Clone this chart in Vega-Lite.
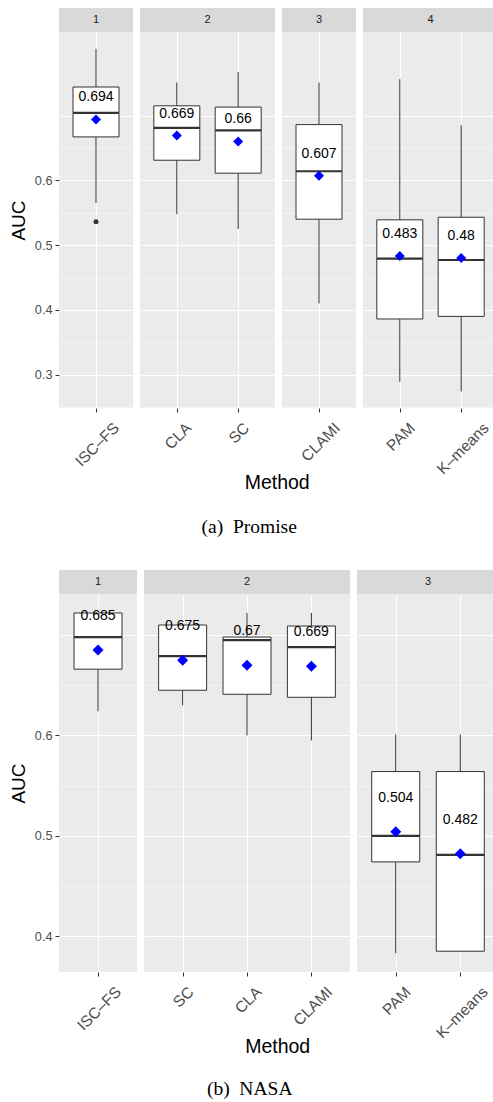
{
  "$schema": "https://vega.github.io/schema/vega-lite/v6.json",
  "padding": {"left": 9, "top": 8, "right": 0, "bottom": 0},
  "spacing": 33,
  "datasets": {
    "promise": [
      {"group": "1", "method": "ISC–FS", "lower": 0.565, "q1": 0.667, "median": 0.704, "q3": 0.744, "upper": 0.803, "mean": 0.694},
      {"group": "2", "method": "CLA", "lower": 0.548, "q1": 0.631, "median": 0.681, "q3": 0.715, "upper": 0.751, "mean": 0.669},
      {"group": "2", "method": "SC", "lower": 0.525, "q1": 0.611, "median": 0.677, "q3": 0.713, "upper": 0.767, "mean": 0.66},
      {"group": "3", "method": "CLAMI", "lower": 0.41, "q1": 0.54, "median": 0.614, "q3": 0.686, "upper": 0.751, "mean": 0.607},
      {"group": "4", "method": "PAM", "lower": 0.289, "q1": 0.386, "median": 0.479, "q3": 0.539, "upper": 0.756, "mean": 0.483},
      {"group": "4", "method": "K–means", "lower": 0.274, "q1": 0.39, "median": 0.477, "q3": 0.543, "upper": 0.685, "mean": 0.48}
    ],
    "promise_out": [
      {"group": "1", "method": "ISC–FS", "value": 0.536}
    ],
    "nasa": [
      {"group": "1", "method": "ISC–FS", "lower": 0.624, "q1": 0.666, "median": 0.698, "q3": 0.722, "upper": 0.722, "mean": 0.685},
      {"group": "2", "method": "SC", "lower": 0.63, "q1": 0.645, "median": 0.679, "q3": 0.71, "upper": 0.71, "mean": 0.675},
      {"group": "2", "method": "CLA", "lower": 0.6, "q1": 0.641, "median": 0.695, "q3": 0.698, "upper": 0.722, "mean": 0.67},
      {"group": "2", "method": "CLAMI", "lower": 0.595, "q1": 0.638, "median": 0.688, "q3": 0.709, "upper": 0.722, "mean": 0.669},
      {"group": "3", "method": "PAM", "lower": 0.383, "q1": 0.474, "median": 0.5, "q3": 0.564, "upper": 0.601, "mean": 0.504},
      {"group": "3", "method": "K–means", "lower": 0.385, "q1": 0.385, "median": 0.481, "q3": 0.564, "upper": 0.601, "mean": 0.482}
    ],
    "strips": [
      {"label": "1"}, {"label": "2"}, {"label": "3"}, {"label": "4"}
    ]
  },
  "config": {
    "font": "Liberation Sans",
    "view": {"fill": "#EBEBEB", "stroke": null},
    "axis": {"domain": false, "gridColor": "white", "tickColor": "#333333", "tickSize": 4, "tickWidth": 1.07, "labelColor": "#4D4D4D"},
    "axisX": {
      "title": null, "grid": true, "gridWidth": 1.07,
      "labelAngle": -45, "labelAlign": "right", "labelBaseline": "top", "labelPadding": 8,
      "labelFontSize": 15.5,
      "labelOffset": {"condition": [
        {"test": "datum.label == 'ISC–FS'", "value": 15},
        {"test": "datum.label == 'CLA'", "value": 6.5},
        {"test": "datum.label == 'SC'", "value": 3},
        {"test": "datum.label == 'CLAMI'", "value": 13},
        {"test": "datum.label == 'PAM'", "value": 7},
        {"test": "datum.label == 'K–means'", "value": 19.5}
      ], "value": 6}
    },
    "text": {"font": "Liberation Sans"}
  },
  "vconcat": [
    {
      "title": {"text": "(a)\u00a0\u00a0Promise", "orient": "bottom", "anchor": "middle", "font": "Liberation Serif", "fontSize": 19.5, "fontWeight": "normal", "color": "black", "offset": 25, "dx": -4.5},
      "vconcat": [
        {
          "title": {"text": "Method", "orient": "bottom", "anchor": "middle", "fontSize": 19.5, "fontWeight": "normal", "color": "black", "offset": -3, "dx": 23.5},
          "spacing": 7,
          "hconcat": [
            {
              "concat": [
                {"width": 74, "height": 24, "view": {"fill": "#D9D9D9", "stroke": null}, "data": {"name": "strips"}, "transform": [{"filter": "datum.label == '1'"}], "mark": {"type": "text", "fontSize": 11, "color": "#1A1A1A"}, "encoding": {"text": {"field": "label"}}},
                {
                  "width": 74, "height": 376,
                  "data": {"name": "promise"},
                  "transform": [{"filter": "datum.group == '1'"}],
                  "encoding": {"x": {"field": "method", "type": "nominal", "sort": null, "scale": {"type": "point", "padding": 0.6}}},
                  "layer": [
                    {"mark": {"type": "rule", "color": "#333333", "strokeWidth": 1}, "encoding": {"y": {"field": "lower", "type": "quantitative", "scale": {"domain": [0.2486, 0.8289], "nice": false, "zero": false}, "axis": {"title": "AUC", "titleFontSize": 19, "titleFontWeight": "normal", "titleColor": "black", "titlePadding": 6, "values": [0.25, 0.3, 0.35, 0.4, 0.45, 0.5, 0.55, 0.6, 0.65, 0.7], "labelExpr": "round(datum.value*100) % 10 == 0 && datum.value < 0.65 ? format(datum.value, '.1f') : ''", "tickOpacity": {"condition": {"test": "round(datum.value*100) % 10 == 0 && datum.value < 0.65", "value": 1}, "value": 0}, "grid": true, "gridWidth": {"condition": {"test": "round(datum.value*100) % 10 == 0", "value": 1.07}, "value": 0.53}, "labelFontSize": 12.7, "labelPadding": 3}}, "y2": {"field": "upper"}}},
                    {"mark": {"type": "bar", "size": 46, "fill": "white", "stroke": "#333333", "strokeWidth": 1}, "encoding": {"y": {"field": "q1", "type": "quantitative", "scale": {"domain": [0.2486, 0.8289], "nice": false, "zero": false}}, "y2": {"field": "q3"}}},
                    {"mark": {"type": "tick", "size": 46, "thickness": 2.2, "color": "#333333", "opacity": 1}, "encoding": {"y": {"field": "median", "type": "quantitative", "scale": {"domain": [0.2486, 0.8289], "nice": false, "zero": false}}}},
                    {"data": {"name": "promise_out"}, "mark": {"type": "point", "filled": true, "size": 25, "color": "#333333", "opacity": 1}, "encoding": {"y": {"field": "value", "type": "quantitative", "scale": {"domain": [0.2486, 0.8289], "nice": false, "zero": false}}}},
                    {"mark": {"type": "point", "shape": "diamond", "filled": true, "size": 100, "color": "#0000FF", "opacity": 1}, "encoding": {"y": {"field": "mean", "type": "quantitative", "scale": {"domain": [0.2486, 0.8289], "nice": false, "zero": false}}}},
                    {"mark": {"type": "text", "dy": -22, "fontSize": 14, "color": "black"}, "encoding": {"y": {"field": "mean", "type": "quantitative", "scale": {"domain": [0.2486, 0.8289], "nice": false, "zero": false}}, "text": {"field": "mean", "type": "quantitative", "format": ".3~f"}}}
                  ]
                }
              ],
              "columns": 1, "spacing": 0, "align": "each"
            },
            {
              "concat": [
                {"width": 135, "height": 24, "view": {"fill": "#D9D9D9", "stroke": null}, "data": {"name": "strips"}, "transform": [{"filter": "datum.label == '2'"}], "mark": {"type": "text", "fontSize": 11, "color": "#1A1A1A"}, "encoding": {"text": {"field": "label"}}},
                {
                  "width": 135, "height": 376,
                  "data": {"name": "promise"},
                  "transform": [{"filter": "datum.group == '2'"}],
                  "encoding": {"x": {"field": "method", "type": "nominal", "sort": null, "scale": {"type": "point", "padding": 0.6}}},
                  "layer": [
                    {"mark": {"type": "rule", "color": "#333333", "strokeWidth": 1}, "encoding": {"y": {"field": "lower", "type": "quantitative", "scale": {"domain": [0.2486, 0.8289], "nice": false, "zero": false}, "axis": {"title": null, "labels": false, "ticks": false, "values": [0.25, 0.3, 0.35, 0.4, 0.45, 0.5, 0.55, 0.6, 0.65, 0.7], "grid": true, "gridWidth": {"condition": {"test": "round(datum.value*100) % 10 == 0", "value": 1.07}, "value": 0.53}}}, "y2": {"field": "upper"}}},
                    {"mark": {"type": "bar", "size": 46, "fill": "white", "stroke": "#333333", "strokeWidth": 1}, "encoding": {"y": {"field": "q1", "type": "quantitative", "scale": {"domain": [0.2486, 0.8289], "nice": false, "zero": false}}, "y2": {"field": "q3"}}},
                    {"mark": {"type": "tick", "size": 46, "thickness": 2.2, "color": "#333333", "opacity": 1}, "encoding": {"y": {"field": "median", "type": "quantitative", "scale": {"domain": [0.2486, 0.8289], "nice": false, "zero": false}}}},
                    {"mark": {"type": "point", "shape": "diamond", "filled": true, "size": 100, "color": "#0000FF", "opacity": 1}, "encoding": {"y": {"field": "mean", "type": "quantitative", "scale": {"domain": [0.2486, 0.8289], "nice": false, "zero": false}}}},
                    {"mark": {"type": "text", "dy": -22, "fontSize": 14, "color": "black"}, "encoding": {"y": {"field": "mean", "type": "quantitative", "scale": {"domain": [0.2486, 0.8289], "nice": false, "zero": false}}, "text": {"field": "mean", "type": "quantitative", "format": ".3~f"}}}
                  ]
                }
              ],
              "columns": 1, "spacing": 0, "align": "each"
            },
            {
              "concat": [
                {"width": 74, "height": 24, "view": {"fill": "#D9D9D9", "stroke": null}, "data": {"name": "strips"}, "transform": [{"filter": "datum.label == '3'"}], "mark": {"type": "text", "fontSize": 11, "color": "#1A1A1A"}, "encoding": {"text": {"field": "label"}}},
                {
                  "width": 74, "height": 376,
                  "data": {"name": "promise"},
                  "transform": [{"filter": "datum.group == '3'"}],
                  "encoding": {"x": {"field": "method", "type": "nominal", "sort": null, "scale": {"type": "point", "padding": 0.6}}},
                  "layer": [
                    {"mark": {"type": "rule", "color": "#333333", "strokeWidth": 1}, "encoding": {"y": {"field": "lower", "type": "quantitative", "scale": {"domain": [0.2486, 0.8289], "nice": false, "zero": false}, "axis": {"title": null, "labels": false, "ticks": false, "values": [0.25, 0.3, 0.35, 0.4, 0.45, 0.5, 0.55, 0.6, 0.65, 0.7], "grid": true, "gridWidth": {"condition": {"test": "round(datum.value*100) % 10 == 0", "value": 1.07}, "value": 0.53}}}, "y2": {"field": "upper"}}},
                    {"mark": {"type": "bar", "size": 46, "fill": "white", "stroke": "#333333", "strokeWidth": 1}, "encoding": {"y": {"field": "q1", "type": "quantitative", "scale": {"domain": [0.2486, 0.8289], "nice": false, "zero": false}}, "y2": {"field": "q3"}}},
                    {"mark": {"type": "tick", "size": 46, "thickness": 2.2, "color": "#333333", "opacity": 1}, "encoding": {"y": {"field": "median", "type": "quantitative", "scale": {"domain": [0.2486, 0.8289], "nice": false, "zero": false}}}},
                    {"mark": {"type": "point", "shape": "diamond", "filled": true, "size": 100, "color": "#0000FF", "opacity": 1}, "encoding": {"y": {"field": "mean", "type": "quantitative", "scale": {"domain": [0.2486, 0.8289], "nice": false, "zero": false}}}},
                    {"mark": {"type": "text", "dy": -22, "fontSize": 14, "color": "black"}, "encoding": {"y": {"field": "mean", "type": "quantitative", "scale": {"domain": [0.2486, 0.8289], "nice": false, "zero": false}}, "text": {"field": "mean", "type": "quantitative", "format": ".3~f"}}}
                  ]
                }
              ],
              "columns": 1, "spacing": 0, "align": "each"
            },
            {
              "concat": [
                {"width": 135, "height": 24, "view": {"fill": "#D9D9D9", "stroke": null}, "data": {"name": "strips"}, "transform": [{"filter": "datum.label == '4'"}], "mark": {"type": "text", "fontSize": 11, "color": "#1A1A1A"}, "encoding": {"text": {"field": "label"}}},
                {
                  "width": 135, "height": 376,
                  "data": {"name": "promise"},
                  "transform": [{"filter": "datum.group == '4'"}],
                  "encoding": {"x": {"field": "method", "type": "nominal", "sort": null, "scale": {"type": "point", "padding": 0.6}}},
                  "layer": [
                    {"mark": {"type": "rule", "color": "#333333", "strokeWidth": 1}, "encoding": {"y": {"field": "lower", "type": "quantitative", "scale": {"domain": [0.2486, 0.8289], "nice": false, "zero": false}, "axis": {"title": null, "labels": false, "ticks": false, "values": [0.25, 0.3, 0.35, 0.4, 0.45, 0.5, 0.55, 0.6, 0.65, 0.7], "grid": true, "gridWidth": {"condition": {"test": "round(datum.value*100) % 10 == 0", "value": 1.07}, "value": 0.53}}}, "y2": {"field": "upper"}}},
                    {"mark": {"type": "bar", "size": 46, "fill": "white", "stroke": "#333333", "strokeWidth": 1}, "encoding": {"y": {"field": "q1", "type": "quantitative", "scale": {"domain": [0.2486, 0.8289], "nice": false, "zero": false}}, "y2": {"field": "q3"}}},
                    {"mark": {"type": "tick", "size": 46, "thickness": 2.2, "color": "#333333", "opacity": 1}, "encoding": {"y": {"field": "median", "type": "quantitative", "scale": {"domain": [0.2486, 0.8289], "nice": false, "zero": false}}}},
                    {"mark": {"type": "point", "shape": "diamond", "filled": true, "size": 100, "color": "#0000FF", "opacity": 1}, "encoding": {"y": {"field": "mean", "type": "quantitative", "scale": {"domain": [0.2486, 0.8289], "nice": false, "zero": false}}}},
                    {"mark": {"type": "text", "dy": -22, "fontSize": 14, "color": "black"}, "encoding": {"y": {"field": "mean", "type": "quantitative", "scale": {"domain": [0.2486, 0.8289], "nice": false, "zero": false}}, "text": {"field": "mean", "type": "quantitative", "format": ".3~f"}}}
                  ]
                }
              ],
              "columns": 1, "spacing": 0, "align": "each"
            }
          ]
        }
      ]
    },
    {
      "title": {"text": "(b)\u00a0\u00a0NASA", "orient": "bottom", "anchor": "middle", "font": "Liberation Serif", "fontSize": 19.5, "fontWeight": "normal", "color": "black", "offset": 23, "dx": -4.5},
      "vconcat": [
        {
          "title": {"text": "Method", "orient": "bottom", "anchor": "middle", "fontSize": 19.5, "fontWeight": "normal", "color": "black", "offset": -3, "dx": 23.5},
          "spacing": 7,
          "hconcat": [
            {
              "concat": [
                {"width": 78, "height": 24, "view": {"fill": "#D9D9D9", "stroke": null}, "data": {"name": "strips"}, "transform": [{"filter": "datum.label == '1'"}], "mark": {"type": "text", "fontSize": 11, "color": "#1A1A1A"}, "encoding": {"text": {"field": "label"}}},
                {
                  "width": 78, "height": 378,
                  "data": {"name": "nasa"},
                  "transform": [{"filter": "datum.group == '1'"}],
                  "encoding": {"x": {"field": "method", "type": "nominal", "sort": null, "scale": {"type": "point", "padding": 0.6}}},
                  "layer": [
                    {"mark": {"type": "rule", "color": "#333333", "strokeWidth": 1}, "encoding": {"y": {"field": "lower", "type": "quantitative", "scale": {"domain": [0.3643, 0.7409], "nice": false, "zero": false}, "axis": {"title": "AUC", "titleFontSize": 19, "titleFontWeight": "normal", "titleColor": "black", "titlePadding": 6, "values": [0.4, 0.45, 0.5, 0.55, 0.6, 0.65, 0.7], "labelExpr": "round(datum.value*100) % 10 == 0 && datum.value < 0.65 ? format(datum.value, '.1f') : ''", "tickOpacity": {"condition": {"test": "round(datum.value*100) % 10 == 0 && datum.value < 0.65", "value": 1}, "value": 0}, "grid": true, "gridWidth": {"condition": {"test": "round(datum.value*100) % 10 == 0", "value": 1.07}, "value": 0.53}, "labelFontSize": 12.7, "labelPadding": 3}}, "y2": {"field": "upper"}}},
                    {"mark": {"type": "bar", "size": 48, "fill": "white", "stroke": "#333333", "strokeWidth": 1}, "encoding": {"y": {"field": "q1", "type": "quantitative", "scale": {"domain": [0.3643, 0.7409], "nice": false, "zero": false}}, "y2": {"field": "q3"}}},
                    {"mark": {"type": "tick", "size": 48, "thickness": 2.2, "color": "#333333", "opacity": 1}, "encoding": {"y": {"field": "median", "type": "quantitative", "scale": {"domain": [0.3643, 0.7409], "nice": false, "zero": false}}}},
                    {"mark": {"type": "point", "shape": "diamond", "filled": true, "size": 121, "color": "#0000FF", "opacity": 1}, "encoding": {"y": {"field": "mean", "type": "quantitative", "scale": {"domain": [0.3643, 0.7409], "nice": false, "zero": false}}}},
                    {"mark": {"type": "text", "dy": -34, "fontSize": 14, "color": "black"}, "encoding": {"y": {"field": "mean", "type": "quantitative", "scale": {"domain": [0.3643, 0.7409], "nice": false, "zero": false}}, "text": {"field": "mean", "type": "quantitative", "format": ".3~f"}}}
                  ]
                }
              ],
              "columns": 1, "spacing": 0, "align": "each"
            },
            {
              "concat": [
                {"width": 206, "height": 24, "view": {"fill": "#D9D9D9", "stroke": null}, "data": {"name": "strips"}, "transform": [{"filter": "datum.label == '2'"}], "mark": {"type": "text", "fontSize": 11, "color": "#1A1A1A"}, "encoding": {"text": {"field": "label"}}},
                {
                  "width": 206, "height": 378,
                  "data": {"name": "nasa"},
                  "transform": [{"filter": "datum.group == '2'"}],
                  "encoding": {"x": {"field": "method", "type": "nominal", "sort": null, "scale": {"type": "point", "padding": 0.6}}},
                  "layer": [
                    {"mark": {"type": "rule", "color": "#333333", "strokeWidth": 1}, "encoding": {"y": {"field": "lower", "type": "quantitative", "scale": {"domain": [0.3643, 0.7409], "nice": false, "zero": false}, "axis": {"title": null, "labels": false, "ticks": false, "values": [0.4, 0.45, 0.5, 0.55, 0.6, 0.65, 0.7], "grid": true, "gridWidth": {"condition": {"test": "round(datum.value*100) % 10 == 0", "value": 1.07}, "value": 0.53}}}, "y2": {"field": "upper"}}},
                    {"mark": {"type": "bar", "size": 48, "fill": "white", "stroke": "#333333", "strokeWidth": 1}, "encoding": {"y": {"field": "q1", "type": "quantitative", "scale": {"domain": [0.3643, 0.7409], "nice": false, "zero": false}}, "y2": {"field": "q3"}}},
                    {"mark": {"type": "tick", "size": 48, "thickness": 2.2, "color": "#333333", "opacity": 1}, "encoding": {"y": {"field": "median", "type": "quantitative", "scale": {"domain": [0.3643, 0.7409], "nice": false, "zero": false}}}},
                    {"mark": {"type": "point", "shape": "diamond", "filled": true, "size": 121, "color": "#0000FF", "opacity": 1}, "encoding": {"y": {"field": "mean", "type": "quantitative", "scale": {"domain": [0.3643, 0.7409], "nice": false, "zero": false}}}},
                    {"mark": {"type": "text", "dy": -34, "fontSize": 14, "color": "black"}, "encoding": {"y": {"field": "mean", "type": "quantitative", "scale": {"domain": [0.3643, 0.7409], "nice": false, "zero": false}}, "text": {"field": "mean", "type": "quantitative", "format": ".3~f"}}}
                  ]
                }
              ],
              "columns": 1, "spacing": 0, "align": "each"
            },
            {
              "concat": [
                {"width": 142, "height": 24, "view": {"fill": "#D9D9D9", "stroke": null}, "data": {"name": "strips"}, "transform": [{"filter": "datum.label == '3'"}], "mark": {"type": "text", "fontSize": 11, "color": "#1A1A1A"}, "encoding": {"text": {"field": "label"}}},
                {
                  "width": 142, "height": 378,
                  "data": {"name": "nasa"},
                  "transform": [{"filter": "datum.group == '3'"}],
                  "encoding": {"x": {"field": "method", "type": "nominal", "sort": null, "scale": {"type": "point", "padding": 0.6}}},
                  "layer": [
                    {"mark": {"type": "rule", "color": "#333333", "strokeWidth": 1}, "encoding": {"y": {"field": "lower", "type": "quantitative", "scale": {"domain": [0.3643, 0.7409], "nice": false, "zero": false}, "axis": {"title": null, "labels": false, "ticks": false, "values": [0.4, 0.45, 0.5, 0.55, 0.6, 0.65, 0.7], "grid": true, "gridWidth": {"condition": {"test": "round(datum.value*100) % 10 == 0", "value": 1.07}, "value": 0.53}}}, "y2": {"field": "upper"}}},
                    {"mark": {"type": "bar", "size": 48, "fill": "white", "stroke": "#333333", "strokeWidth": 1}, "encoding": {"y": {"field": "q1", "type": "quantitative", "scale": {"domain": [0.3643, 0.7409], "nice": false, "zero": false}}, "y2": {"field": "q3"}}},
                    {"mark": {"type": "tick", "size": 48, "thickness": 2.2, "color": "#333333", "opacity": 1}, "encoding": {"y": {"field": "median", "type": "quantitative", "scale": {"domain": [0.3643, 0.7409], "nice": false, "zero": false}}}},
                    {"mark": {"type": "point", "shape": "diamond", "filled": true, "size": 121, "color": "#0000FF", "opacity": 1}, "encoding": {"y": {"field": "mean", "type": "quantitative", "scale": {"domain": [0.3643, 0.7409], "nice": false, "zero": false}}}},
                    {"mark": {"type": "text", "dy": -34, "fontSize": 14, "color": "black"}, "encoding": {"y": {"field": "mean", "type": "quantitative", "scale": {"domain": [0.3643, 0.7409], "nice": false, "zero": false}}, "text": {"field": "mean", "type": "quantitative", "format": ".3~f"}}}
                  ]
                }
              ],
              "columns": 1, "spacing": 0, "align": "each"
            }
          ]
        }
      ]
    }
  ]
}
